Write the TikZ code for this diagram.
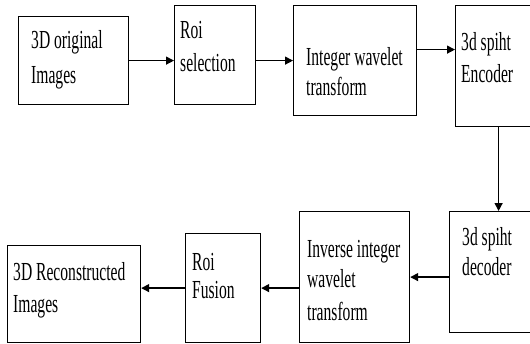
\documentclass[tikz,border=0pt]{standalone}
\usepackage{fontspec}
\newfontfamily\condserif[FakeStretch=0.6]{Liberation Serif}
\usetikzlibrary{arrows.meta}
\begin{document}
\begin{tikzpicture}[x=1pt,y=-1pt,
  blk/.style={draw=black, line width=1.2pt, fill=white, inner sep=0pt},
  lbl/.style={anchor=base west, align=left, inner sep=0pt,
    font=\condserif\fontsize{26}{32}\selectfont},
  arr/.style={line width=1.3pt, -{Triangle[length=8pt,width=8pt]}}]
\useasboundingbox (0,0) rectangle (530,343);
% boxes (corners in pixels, y downward)
\node[blk, minimum width=110pt, minimum height=88pt, anchor=north west] (b1) at (18,16) {};
\node[blk, minimum width=81pt, minimum height=99pt, anchor=north west] (b2) at (174,5) {};
\node[blk, minimum width=123pt, minimum height=110pt, anchor=north west] (b3) at (293,5) {};
\node[blk, minimum width=80pt, minimum height=121pt, anchor=north west] (b4) at (455,5) {};
\node[blk, minimum width=86pt, minimum height=121pt, anchor=north west] (b5) at (449,211) {};
\node[blk, minimum width=110pt, minimum height=131pt, anchor=north west] (b6) at (299,211) {};
\node[blk, minimum width=75pt, minimum height=109pt, anchor=north west] (b7) at (185,233) {};
\node[blk, minimum width=133pt, minimum height=97pt, anchor=north west] (b8) at (7,245) {};
% texts (anchored at the baseline of the last line)
\node[lbl] (t1) at (31,83) {3D original\\[3pt]Images};
\node[lbl] (t2) at (180,71) {Roi\\[1pt]selection};
\node[lbl] (t3) at (306,95) {Integer wavelet\\[-2pt]transform};
\node[lbl] (t4) at (461,82) {3d spiht\\Encoder};
\node[lbl] (t5) at (462,275) {3d spiht\\[-2pt]decoder};
\node[lbl] (t6) at (307,320) {Inverse integer\\[-2pt]wavelet\\[1pt]transform};
\node[lbl] (t7) at (192,298) {Roi\\[-4pt]Fusion};
\node[lbl] (t8) at (13,312) {3D Reconstructed\\Images};
% connectors
\draw[arr] (b1.east) -- (b1.east -| b2.west);
\draw[arr] (b2.east |- b1.east) -- (b1.east -| b3.west);
\draw[arr] ([yshift=11pt]b3.east) -- ([yshift=11pt]b3.east -| b4.west);
\draw[arr] ([xshift=3pt]b4.south) -- ([xshift=3pt]b4.south |- b5.north);
\draw[arr] (b6.east -| b5.west) -- (b6.east);
\draw[arr] (b7.east -| b6.west) -- (b7.east);
\draw[arr] (b7.west) -- (b7.west -| b8.east);
\end{tikzpicture}
\end{document}
